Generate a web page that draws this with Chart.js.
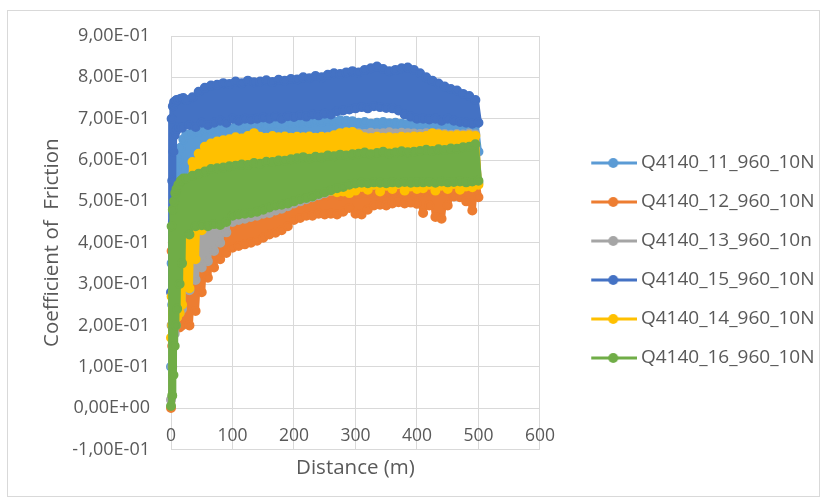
<!DOCTYPE html>
<html>
<head>
<meta charset="utf-8">
<script src="https://cdn.jsdelivr.net/npm/chart.js@4.4.1/dist/chart.umd.min.js"></script>
<style>
  html, body { margin: 0; padding: 0; background: #fff; }
  #wrap { position: relative; width: 827px; height: 503px; }
  #frame { position: absolute; left: 7px; top: 10px; width: 813px; height: 487px;
           border: 1px solid #d9d9d9; box-sizing: border-box; pointer-events: none; }
  canvas { position: absolute; left: 0; top: 0; }
</style>
</head>
<body>
<div id="wrap"><canvas id="cof" width="827" height="503"></canvas><div id="frame"></div></div>
<script>
// Sliding distance (m) shared by every test run
const distance = [
  0, 1, 2, 3, 4, 5, 6, 7, 8, 9, 10, 12, 14, 16, 18, 20,
  25, 30, 35, 40, 45, 50, 55, 60, 65, 70, 75, 80, 85, 90, 95, 100,
  105, 110, 115, 120, 125, 130, 135, 140, 145, 150, 155, 160, 165, 170, 175, 180, 185, 190, 195, 200,
  205, 210, 215, 220, 225, 230, 235, 240, 245, 250, 255, 260, 265, 270, 275, 280, 285, 290, 295, 300,
  305, 310, 315, 320, 325, 330, 335, 340, 345, 350, 355, 360, 365, 370, 375, 380, 385, 390, 395, 400,
  405, 410, 415, 420, 425, 430, 435, 440, 445, 450, 455, 460, 465, 470, 475, 480, 485, 490, 495, 500
];

// Coefficient of friction per run
const cof11 = [
  0.10, 0.35, 0.25, 0.45, 0.38, 0.52, 0.45, 0.56, 0.50, 0.58, 0.52, 0.60, 0.54, 0.63, 0.55, 0.65,
  0.662, 0.57, 0.665, 0.575, 0.668, 0.58, 0.672, 0.585, 0.674, 0.59, 0.676, 0.592, 0.678, 0.595, 0.677, 0.60,
  0.68, 0.598, 0.682, 0.60, 0.683, 0.602, 0.681, 0.605, 0.685, 0.603, 0.684, 0.605, 0.686, 0.607, 0.688, 0.605, 0.686, 0.61, 0.69, 0.608,
  0.689, 0.61, 0.691, 0.612, 0.69, 0.61, 0.693, 0.614, 0.692, 0.612, 0.695, 0.615, 0.694, 0.618, 0.696, 0.615, 0.695, 0.62, 0.694, 0.618,
  0.69, 0.62, 0.692, 0.622, 0.688, 0.62, 0.69, 0.622, 0.692, 0.62, 0.689, 0.623, 0.69, 0.62, 0.688, 0.622, 0.687, 0.62, 0.688, 0.618,
  0.686, 0.62, 0.688, 0.618, 0.686, 0.62, 0.685, 0.617, 0.687, 0.62, 0.685, 0.618, 0.684, 0.62, 0.686, 0.618, 0.685, 0.62, 0.684, 0.62
];
const cof12 = [
  0.0, 0.38, 0.15, 0.40, 0.22, 0.36, 0.20, 0.33, 0.20, 0.31, 0.20, 0.30, 0.195, 0.30, 0.20, 0.31,
  0.31, 0.20, 0.34, 0.235, 0.37, 0.28, 0.40, 0.315, 0.42, 0.34, 0.44, 0.36, 0.455, 0.375, 0.465, 0.388,
  0.47, 0.392, 0.475, 0.396, 0.48, 0.40, 0.485, 0.405, 0.49, 0.412, 0.492, 0.42, 0.495, 0.424, 0.498, 0.43, 0.50, 0.44, 0.505, 0.455,
  0.508, 0.46, 0.51, 0.465, 0.512, 0.465, 0.51, 0.47, 0.514, 0.468, 0.515, 0.47, 0.516, 0.468, 0.514, 0.475, 0.518, 0.484, 0.516, 0.47,
  0.518, 0.468, 0.52, 0.48, 0.519, 0.49, 0.521, 0.492, 0.52, 0.49, 0.522, 0.495, 0.52, 0.498, 0.521, 0.495, 0.523, 0.497, 0.522, 0.494,
  0.522, 0.472, 0.524, 0.49, 0.525, 0.462, 0.524, 0.458, 0.526, 0.49, 0.528, 0.512, 0.53, 0.51, 0.532, 0.50, 0.535, 0.478, 0.56, 0.51
];
const cof13 = [
  0.02, 0.20, 0.10, 0.25, 0.15, 0.28, 0.18, 0.30, 0.20, 0.33, 0.22, 0.36, 0.23, 0.39, 0.24, 0.41,
  0.46, 0.285, 0.53, 0.31, 0.56, 0.34, 0.575, 0.355, 0.585, 0.38, 0.595, 0.40, 0.60, 0.425, 0.61, 0.45,
  0.615, 0.455, 0.62, 0.458, 0.625, 0.462, 0.628, 0.465, 0.63, 0.47, 0.633, 0.472, 0.635, 0.478, 0.638, 0.482, 0.64, 0.488, 0.642, 0.495,
  0.645, 0.50, 0.647, 0.505, 0.65, 0.51, 0.652, 0.515, 0.654, 0.52, 0.656, 0.525, 0.658, 0.53, 0.66, 0.532, 0.662, 0.535, 0.664, 0.538,
  0.665, 0.54, 0.663, 0.542, 0.666, 0.54, 0.664, 0.543, 0.665, 0.545, 0.667, 0.542, 0.664, 0.544, 0.666, 0.545, 0.665, 0.543, 0.664, 0.545,
  0.663, 0.545, 0.665, 0.543, 0.662, 0.546, 0.664, 0.544, 0.663, 0.545, 0.661, 0.547, 0.663, 0.545, 0.662, 0.546, 0.664, 0.544, 0.662, 0.545
];
const cof15 = [
  0.28, 0.70, 0.55, 0.73, 0.62, 0.74, 0.66, 0.742, 0.67, 0.745, 0.675, 0.746, 0.68, 0.748, 0.678, 0.75,
  0.745, 0.685, 0.752, 0.68, 0.765, 0.69, 0.775, 0.685, 0.78, 0.69, 0.782, 0.695, 0.786, 0.69, 0.784, 0.70,
  0.79, 0.695, 0.786, 0.70, 0.792, 0.698, 0.788, 0.70, 0.79, 0.703, 0.793, 0.70, 0.789, 0.705, 0.794, 0.70, 0.792, 0.706, 0.796, 0.704,
  0.795, 0.708, 0.80, 0.705, 0.798, 0.71, 0.803, 0.708, 0.80, 0.712, 0.806, 0.71, 0.81, 0.718, 0.808, 0.72, 0.812, 0.722, 0.815, 0.725,
  0.812, 0.728, 0.818, 0.725, 0.822, 0.73, 0.826, 0.728, 0.82, 0.726, 0.815, 0.725, 0.818, 0.72, 0.822, 0.71, 0.824, 0.705, 0.818, 0.70,
  0.81, 0.70, 0.80, 0.698, 0.792, 0.70, 0.785, 0.695, 0.778, 0.70, 0.772, 0.695, 0.768, 0.692, 0.76, 0.69, 0.755, 0.688, 0.745, 0.69
];
const cof14 = [
  0.17, 0.27, 0.20, 0.28, 0.22, 0.30, 0.22, 0.32, 0.22, 0.35, 0.22, 0.38, 0.23, 0.42, 0.25, 0.48,
  0.54, 0.29, 0.595, 0.36, 0.615, 0.43, 0.632, 0.47, 0.64, 0.49, 0.645, 0.50, 0.648, 0.505, 0.65, 0.51,
  0.655, 0.512, 0.652, 0.515, 0.658, 0.514, 0.665, 0.518, 0.656, 0.516, 0.654, 0.52, 0.658, 0.518, 0.655, 0.522, 0.657, 0.52, 0.654, 0.524,
  0.656, 0.525, 0.655, 0.524, 0.657, 0.526, 0.654, 0.525, 0.656, 0.527, 0.655, 0.526, 0.66, 0.522, 0.665, 0.524, 0.667, 0.52, 0.668, 0.526,
  0.662, 0.535, 0.655, 0.528, 0.653, 0.54, 0.656, 0.524, 0.654, 0.538, 0.655, 0.53, 0.653, 0.542, 0.656, 0.526, 0.655, 0.536, 0.657, 0.53,
  0.656, 0.532, 0.658, 0.54, 0.665, 0.526, 0.662, 0.538, 0.66, 0.53, 0.658, 0.542, 0.66, 0.528, 0.659, 0.536, 0.66, 0.534, 0.658, 0.54
];
const cof16 = [
  0.005, 0.44, 0.03, 0.48, 0.08, 0.50, 0.15, 0.52, 0.20, 0.53, 0.24, 0.54, 0.30, 0.55, 0.35, 0.555,
  0.555, 0.42, 0.562, 0.44, 0.567, 0.442, 0.572, 0.44, 0.578, 0.445, 0.58, 0.443, 0.582, 0.45, 0.585, 0.465,
  0.586, 0.468, 0.589, 0.47, 0.588, 0.472, 0.593, 0.475, 0.591, 0.48, 0.596, 0.485, 0.595, 0.49, 0.599, 0.492, 0.598, 0.495, 0.602, 0.50,
  0.604, 0.505, 0.607, 0.508, 0.603, 0.512, 0.608, 0.518, 0.606, 0.522, 0.611, 0.527, 0.609, 0.532, 0.613, 0.535, 0.611, 0.54, 0.614, 0.543,
  0.615, 0.545, 0.618, 0.544, 0.614, 0.546, 0.617, 0.545, 0.62, 0.544, 0.616, 0.546, 0.618, 0.545, 0.621, 0.547, 0.619, 0.545, 0.62, 0.546,
  0.622, 0.546, 0.625, 0.547, 0.622, 0.545, 0.626, 0.548, 0.624, 0.546, 0.628, 0.547, 0.627, 0.548, 0.631, 0.546, 0.632, 0.548, 0.638, 0.55
];

const runNames = ['Q4140_11_960_10N', 'Q4140_12_960_10N', 'Q4140_13_960_10n',
                  'Q4140_15_960_10N', 'Q4140_14_960_10N', 'Q4140_16_960_10N'];
const runValues = [cof11, cof12, cof13, cof15, cof14, cof16];
const runColors = ['#5B9BD5', '#ED7D31', '#A5A5A5', '#4472C4', '#FFC000', '#70AD47'];

const textGray = '#595959';
const gridGray = '#d9d9d9';
const fontFamily = '"Open Sans", "Liberation Sans", sans-serif';

// Legend symbol: short line with a marker in the middle
function legendIcon(color) {
  const c = document.createElement('canvas');
  c.width = 83; c.height = 12;
  const g = c.getContext('2d');
  g.strokeStyle = color; g.lineWidth = 3;
  g.beginPath(); g.moveTo(37, 6); g.lineTo(83, 6); g.stroke();
  g.fillStyle = color;
  g.beginPath(); g.arc(59, 6, 5, 0, Math.PI * 2); g.fill();
  return c;
}
const icons = runColors.map(legendIcon);

// "9,00E-01" style labels
function sciComma(v) {
  const parts = Number(v).toExponential(2).split('e');
  const e = parseInt(parts[1], 10);
  return parts[0].replace('.', ',') + 'E' + (e < 0 ? '-' : '+') + String(Math.abs(e)).padStart(2, '0');
}

const datasets = runNames.map((name, i) => ({
  label: name,
  data: distance.map((d, k) => ({ x: d, y: runValues[i][k] })),
  showLine: true,
  borderColor: runColors[i],
  backgroundColor: runColors[i],
  borderWidth: 7,
  borderJoinStyle: 'round',
  borderCapStyle: 'round',
  pointRadius: 4,
  pointBorderWidth: 2,
  pointBackgroundColor: runColors[i],
  pointBorderColor: runColors[i],
  tension: 0,
  clip: false,
  // later runs are painted over earlier ones
  order: runNames.length - i
}));

new Chart(document.getElementById('cof'), {
  type: 'scatter',
  data: { datasets },
  options: {
    responsive: false,
    animation: false,
    events: [],
    layout: { padding: { left: 20, top: 36, right: 2.5, bottom: 18 } },
    plugins: {
      tooltip: { enabled: false },
      legend: {
        position: 'right',
        maxWidth: 320,
        labels: {
          usePointStyle: true,
          pointStyleWidth: 71.5,
          padding: 20,
          color: textGray,
          font: { family: fontFamily, size: 19 },
          generateLabels(chart) {
            const items = Chart.defaults.plugins.legend.labels.generateLabels(chart);
            items.forEach(it => { it.pointStyle = icons[it.datasetIndex]; });
            return items.sort((a, b) => a.datasetIndex - b.datasetIndex);
          }
        }
      }
    },
    scales: {
      x: {
        type: 'linear',
        min: 0, max: 600,
        ticks: { stepSize: 100, mirror: true, padding: 3, color: textGray,
                 font: { family: fontFamily, size: 17.5 } },
        grid: { color: gridGray, lineWidth: 1, drawTicks: false },
        border: { display: false },
        title: { display: true, text: 'Distance (m)', color: textGray,
                 font: { family: fontFamily, size: 20.5 }, padding: { top: 0, bottom: 5 } }
      },
      y: {
        type: 'linear',
        min: -0.1, max: 0.9,
        ticks: { stepSize: 0.1, padding: 21, color: textGray, font: { family: fontFamily, size: 18 },
                 callback: (v) => sciComma(v) },
        grid: { color: gridGray, lineWidth: 1, drawTicks: false },
        border: { display: false },
        title: { display: true, text: 'Coefficient of  Friction', color: textGray,
                 font: { family: fontFamily, size: 20.5 }, padding: { top: 20, bottom: 5 } },
        afterFit(scale) { scale.width = 151; }
      }
    }
  }
});
</script>
</body>
</html>
